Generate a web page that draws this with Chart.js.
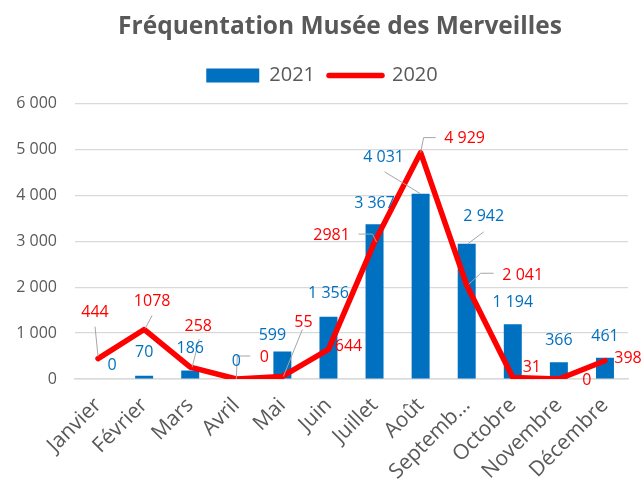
<!DOCTYPE html>
<html>
<head>
<meta charset="utf-8">
<script src="https://cdn.jsdelivr.net/npm/chart.js@4.4.1/dist/chart.umd.min.js"></script>
<style>
  html, body { margin: 0; padding: 0; background: #fff; }
</style>
</head>
<body>
<canvas id="chart" width="641" height="481"></canvas>
<script>
// data
var months = ['Janvier', 'Février', 'Mars', 'Avril', 'Mai', 'Juin', 'Juillet', 'Août', 'Septemb…', 'Octobre', 'Novembre', 'Décembre'];
var visits2021 = [0, 70, 186, 0, 599, 1356, 3367, 4031, 2942, 1194, 366, 461];
var visits2020 = [444, 1078, 258, 0, 55, 644, 2981, 4929, 2041, 31, 0, 398];
// 2020 labels are not all grouped the same way in the original
var text2020 = ['444', '1078', '258', '0', '55', '644', '2981', '4 929', '2 041', '31', '0', '398'];
var yTicks = [0, 1000, 2000, 3000, 4000, 5000, 6000];

var blue = '#0070C0';
var red = '#FF0000';
var grey = '#595959';
var font = "'Open Sans', sans-serif";

// label placement relative to the point: [dx, dy, leader path or null]
var place2021 = [
    [14, -14, null], [0, -23, null], [0, -22, null], [0, -18, null],
    [-10, -16, null], [0, -23, null], [0, -21, null],
    [-37, -36, [[-36, -22], [0, 0]]],
    [17, -27, [[17, -12], [1, 0]]],
    [0, -22, null], [0, -22, null], [0, -21, null]
];
var place2020 = [
    [-3, -46, [[-3, -32], [0, -2]]],
    [8, -28, [[8, -14], [1, -1]]],
    [8, -41, [[9, -28], [2, 0]]],
    [28, -22, [[14, -23], [1, -23], [0, 0]]],
    [21, -54, [[20, -47], [1, 0]]],
    [20, -3, null],
    [-43, -7, [[-16, -8], [-2, -8], [2, 0]]],
    [44, -14, [[15, -15], [3, -15], [0, 0]]],
    [56, -10, [[27, -12], [14, -12], [2, -1]]],
    [19, -10, null], [28, 1, null], [23, -2, null]
];

function spaced(v) {
    return String(v).replace(/\B(?=(\d{3})+(?!\d))/g, ' ');
}

var valueLabels = {
    id: 'valueLabels',
    beforeLayout: function(chart) {
        // a bit more room under the legend row
        var lg = chart.legend;
        if (lg && !lg._extraRoom) {
            var fit = lg.fit;
            lg.fit = function() {
                fit.call(this);
                this.height += 8;
            };
            lg._extraRoom = true;
        }
    },
    afterLayout: function(chart) {
        // title sits a little right of the legend in the original
        if (chart.titleBlock) chart.titleBlock.left += 36;
    },
    afterDatasetsDraw: function(chart) {
        var c = chart.ctx;
        var sets = [
            { meta: chart.getDatasetMeta(0), text: visits2021.map(spaced), place: place2021, color: blue },
            { meta: chart.getDatasetMeta(1), text: text2020, place: place2020, color: red }
        ];
        c.save();
        // leader lines first
        c.strokeStyle = '#A6A6A6';
        c.lineWidth = 1;
        sets.forEach(function(s) {
            s.meta.data.forEach(function(el, i) {
                var path = s.place[i][2];
                if (!path) return;
                c.beginPath();
                path.forEach(function(p, k) {
                    if (k === 0) c.moveTo(el.x + p[0], el.y + p[1]);
                    else c.lineTo(el.x + p[0], el.y + p[1]);
                });
                c.stroke();
            });
        });
        c.font = '16px ' + font;
        c.textAlign = 'center';
        c.textBaseline = 'middle';
        sets.forEach(function(s) {
            c.fillStyle = s.color;
            s.meta.data.forEach(function(el, i) {
                c.fillText(s.text[i], el.x + s.place[i][0], el.y + s.place[i][1]);
            });
        });
        c.restore();
    }
};

var chart = new Chart(document.getElementById('chart'), {
    type: 'bar',
    data: {
        labels: months,
        datasets: [{
            label: '2021',
            data: visits2021,
            backgroundColor: blue,
            borderWidth: 0,
            barPercentage: 0.39,
            categoryPercentage: 1,
            order: 2
        }, {
            type: 'line',
            label: '2020',
            data: visits2020,
            borderColor: red,
            backgroundColor: red,
            borderWidth: 5.5,
            borderCapStyle: 'round',
            borderJoinStyle: 'round',
            pointRadius: 0,
            tension: 0,
            order: 1
        }]
    },
    options: {
        responsive: false,
        animation: false,
        layout: { padding: { left: 16, right: 13, top: 0, bottom: 0 } },
        plugins: {
            tooltip: { enabled: false },
            title: {
                display: true,
                text: 'Fréquentation Musée des Merveilles',
                color: grey,
                font: { family: font, size: 24.5, weight: 'bold' },
                padding: { top: 12, bottom: 10 }
            },
            legend: {
                labels: {
                    color: grey,
                    font: { family: font, size: 20 },
                    usePointStyle: true,
                    pointStyleWidth: 53,
                    boxHeight: 14,
                    padding: 14,
                    generateLabels: function(chart) {
                        var items = Chart.defaults.plugins.legend.labels.generateLabels(chart);
                        items.sort(function(a, b) { return a.datasetIndex - b.datasetIndex; });
                        items[0].pointStyle = 'rect';
                        items[0].lineWidth = 0;
                        items[0].fillStyle = blue;
                        items[1].pointStyle = 'line';
                        items[1].lineWidth = 5.5;
                        items[1].strokeStyle = red;
                        items[1].lineCap = 'round';
                        return items;
                    }
                }
            }
        },
        scales: {
            x: {
                grid: { display: false },
                border: { display: true, color: '#D9D9D9', width: 1.5 },
                ticks: {
                    color: grey,
                    font: { family: font, size: 21 },
                    autoSkip: false,
                    minRotation: 45,
                    maxRotation: 45,
                    padding: 6
                },
                afterFit: function(scale) { scale.height = 102; }
            },
            y: {
                min: 0,
                max: 6000,
                afterBuildTicks: function(scale) {
                    scale.ticks = yTicks.map(function(v) { return { value: v }; });
                },
                grid: { color: '#D9D9D9', lineWidth: 1.2, drawTicks: false },
                border: { display: false },
                ticks: {
                    color: grey,
                    font: { family: font, size: 16 },
                    padding: 18,
                    callback: function(v) { return spaced(v); }
                },
                afterFit: function(scale) { scale.width = 59; }
            }
        }
    },
    plugins: [valueLabels]
});
</script>
</body>
</html>
